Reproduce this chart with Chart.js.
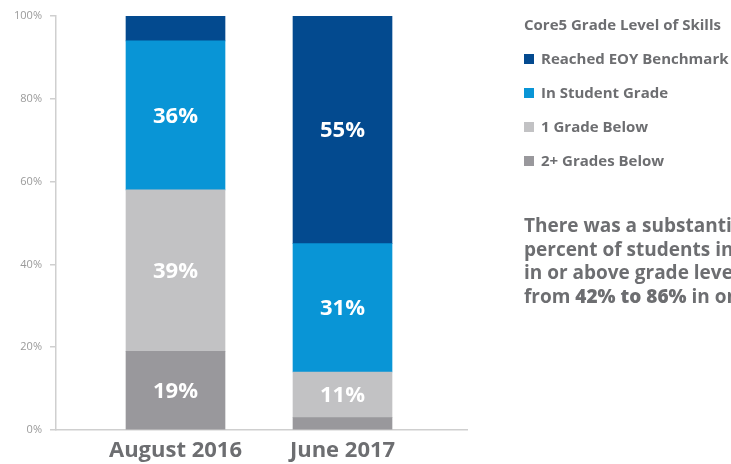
<!DOCTYPE html>
<html>
<head>
<meta charset="utf-8">
<script src="https://cdn.jsdelivr.net/npm/chart.js"></script>
<style>
  body { margin: 0; background: #fff; }
  #wrap { position: relative; width: 731px; height: 464px; overflow: hidden; font-family: "Open Sans", Lato, sans-serif; color: #6d6e71; }
  #legend { position: absolute; left: 524px; top: 14px; white-space: nowrap; font-size: 15px; font-weight: 700; }
  #legend div { height: 20px; line-height: 20px; margin-bottom: 14px; }
  #legend span.box { display: inline-block; width: 10px; height: 10px; margin-right: 7px; vertical-align: 0px; }
  #note { position: absolute; left: 524px; top: 214px; white-space: nowrap; font-size: 19px; font-weight: 700; line-height: 23.5px; }
  #note b { font-weight: 800; }
</style>
</head>
<body>
<div id="wrap">
  <canvas id="chart" width="731" height="464"></canvas>
  <div id="legend"></div>
  <div id="note">There was a substantial increase in the<br>percent of students in Core5 working<br>in or above grade level, increasing<br>from <b>42% to 86%</b> in one school year.</div>
</div>
<script>
// data
const categories = ['August 2016', 'June 2017'];
const legendTitle = 'Core5 Grade Level of Skills';
const seriesNames = ['Reached EOY Benchmark', 'In Student Grade', '1 Grade Below', '2+ Grades Below'];
const reachedEOY = [6, 55];
const inGrade = [36, 31];
const oneBelow = [39, 11];
const twoPlusBelow = [19, 3];
const yTickValues = [0, 20, 40, 60, 80, 100];

const seriesValues = [reachedEOY, inGrade, oneBelow, twoPlusBelow];
const seriesColors = ['#034a8f', '#0995d6', '#c2c2c4', '#99989c'];

// stacks draw bottom-up, so reverse the legend order
const datasets = seriesNames.map((name, i) => ({
  label: name,
  data: seriesValues[i].map((v, j) => ({x: j, y: v})),
  backgroundColor: seriesColors[i],
  borderWidth: 0,
  barThickness: 99,
})).reverse();

// white percentage labels inside the larger segments
const segmentLabels = {
  id: 'segmentLabels',
  afterDatasetsDraw(chart) {
    const ctx = chart.ctx;
    ctx.save();
    ctx.font = 'bold 22px "Open Sans", sans-serif';
    ctx.fillStyle = '#ffffff';
    ctx.textAlign = 'center';
    ctx.textBaseline = 'middle';
    chart.data.datasets.forEach((ds, i) => {
      chart.getDatasetMeta(i).data.forEach((bar, j) => {
        const v = ds.data[j].y;
        if (v < 10) return;
        const p = bar.getCenterPoint();
        ctx.fillText(v + '%', p.x, p.y + 1);
      });
    });
    ctx.restore();
  }
};

new Chart(document.getElementById('chart'), {
  type: 'bar',
  data: {datasets: datasets},
  options: {
    responsive: false,
    animation: false,
    layout: {padding: {left: 0, top: 16, right: 264, bottom: 0}},
    plugins: {legend: {display: false}, tooltip: {enabled: false}},
    scales: {
      x: {
        type: 'linear',
        stacked: true,
        offset: false,
        min: -0.7156,
        max: 1.7455,
        afterBuildTicks: (s) => { s.ticks = categories.map((c, i) => ({value: i})); },
        afterFit: (s) => { s.height = 34; },
        grid: {display: false, drawTicks: false, offset: false},
        border: {display: true, color: '#cfcfcf', width: 1.5},
        ticks: {
          autoSkip: false,
          maxRotation: 0,
          padding: 8,
          color: '#6d6e71',
          font: {family: '"Open Sans"', size: 22, weight: 'bold'},
          callback: (v) => categories[v],
        },
      },
      y: {
        stacked: true,
        min: 0,
        max: 100,
        afterBuildTicks: (s) => { s.ticks = yTickValues.map(v => ({value: v})); },
        afterFit: (s) => { s.width = 56; },
        grid: {drawOnChartArea: false, drawTicks: true, tickLength: 6, color: '#cfcfcf', lineWidth: 1.5},
        border: {display: true, color: '#cfcfcf', width: 1.5},
        ticks: {
          padding: 8,
          color: '#9a9a9a',
          font: {family: '"Open Sans"', size: 11},
          callback: (v) => v + '%',
        },
      },
    },
  },
  plugins: [segmentLabels],
});

// legend beside the chart
const legend = document.getElementById('legend');
const title = document.createElement('div');
title.textContent = legendTitle;
legend.append(title);
seriesNames.forEach((name, i) => {
  const row = document.createElement('div');
  const box = document.createElement('span');
  box.className = 'box';
  box.style.background = seriesColors[i];
  row.append(box, document.createTextNode(name));
  legend.append(row);
});
</script>
</body>
</html>
